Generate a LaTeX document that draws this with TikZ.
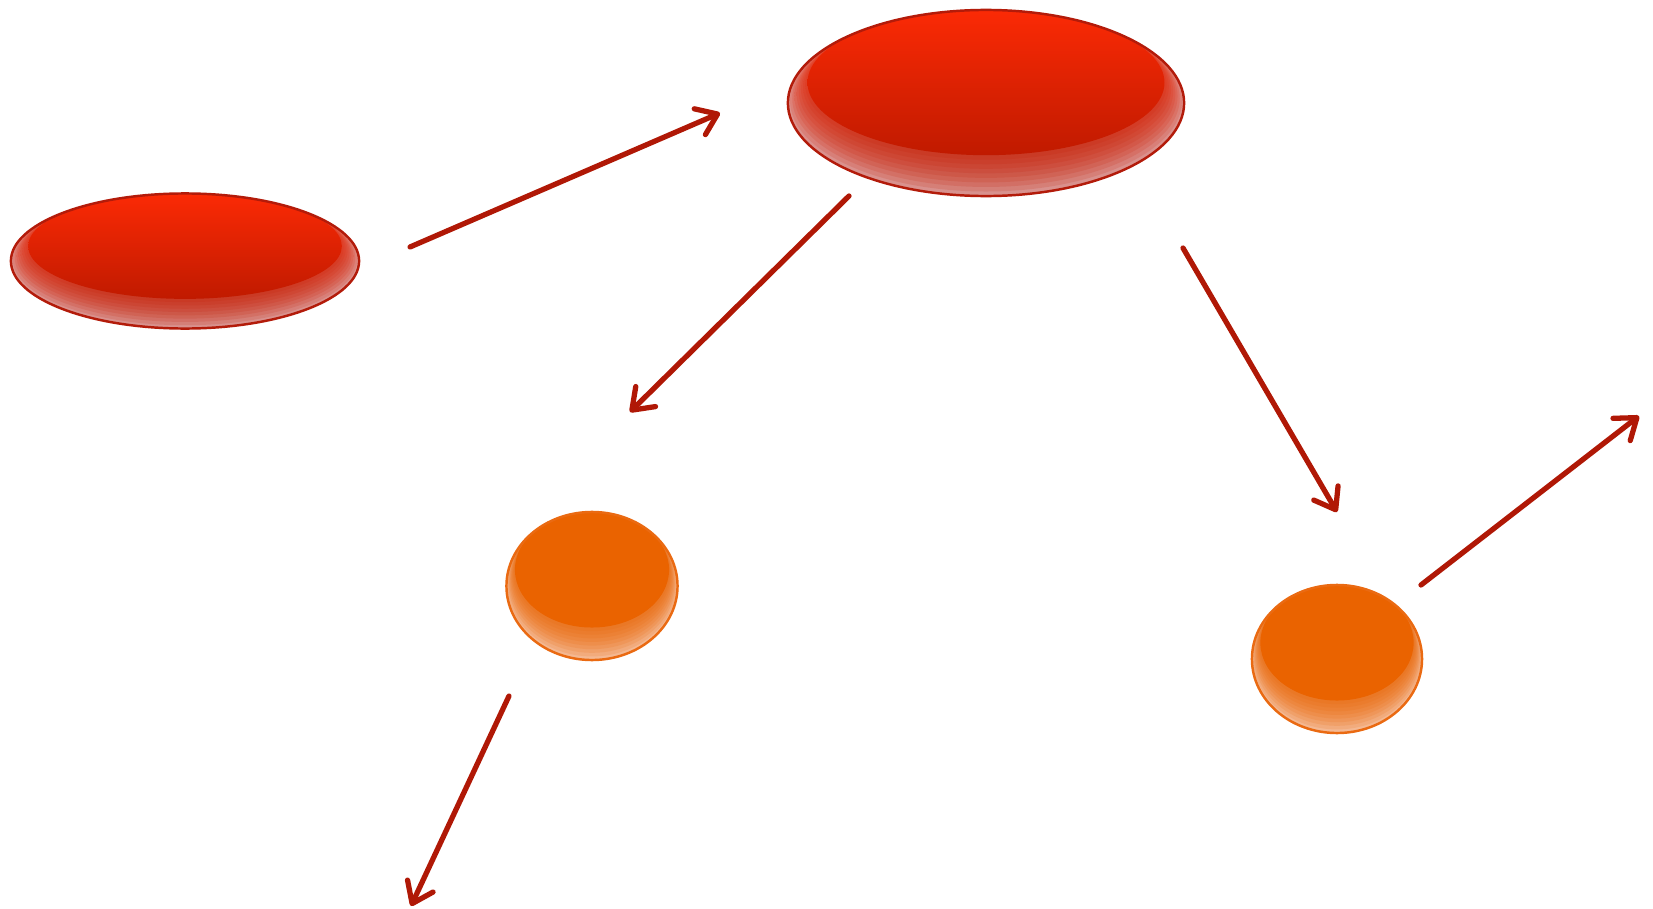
\documentclass[tikz,border=0pt]{standalone}
\usetikzlibrary{arrows.meta,calc,shapes.geometric}
\definecolor{blobtop}{HTML}{FB2A05}
\definecolor{blobdark}{HTML}{C01A00}
\definecolor{blobrim}{HTML}{DDA6A6}
\definecolor{blobline}{HTML}{B31B0A}
\definecolor{orbfill}{HTML}{EA6300}
\definecolor{orbrim}{HTML}{F6C8AC}
\definecolor{orbline}{HTML}{EA6A12}
\definecolor{arrowred}{HTML}{B01806}

\begin{document}
\begin{tikzpicture}[x=0.01cm, y=-0.01cm,
  glow/.style={path picture={
    \foreach \i/\o [evaluate=\i as \fx using 1-0.011*\i,
                    evaluate=\i as \fy using 1-0.0244*\i]
      in {0/0.15, 1/0.15, 2/0.15, 3/0.15, 4/0.15, 5/0.15, 6/0.15, 7/0.15, 8/0.15, 9/1}{
      \path[#1, opacity=\o]
        let \p1=($(path picture bounding box.north east)-(path picture bounding box.center)$) in
        ([yshift={(1-\fy)*\y1}]path picture bounding box.center)
        ellipse [x radius={\fx*\x1}, y radius={\fy*\y1}];
    }}},
  redblob/.style={ellipse, inner sep=0pt, draw=blobline, line width=0.7pt,
    fill=blobrim, glow={top color=blobtop, bottom color=blobdark}},
  orangeorb/.style={ellipse, inner sep=0pt, draw=orbline, line width=0.7pt,
    fill=orbrim, glow={fill=orbfill}},
  link/.style={draw=arrowred, line width=1.5pt, line cap=round,
    -{Straight Barb[length=5.5pt,width=8pt,round]}}]
\useasboundingbox (0,0) rectangle (1653,909);

\node[redblob, minimum width=3.48cm, minimum height=1.35cm] (source) at (185,261) {};
\node[redblob, minimum width=3.96cm, minimum height=1.86cm] (hub) at (986,103) {};
\node[orangeorb, minimum width=1.71cm, minimum height=1.48cm] (leftorb) at (592,586) {};
\node[orangeorb, minimum width=1.70cm, minimum height=1.48cm] (rightorb) at (1337,659) {};

\coordinate (srcout) at (410,247);
\coordinate (hubin) at (720,113);
\coordinate (hubleft) at (849,196);
\coordinate (leftin) at (630,412);
\coordinate (hubright) at (1183,248);
\coordinate (rightin) at (1337,512);
\coordinate (rightout) at (1421,585);
\coordinate (rightend) at (1639,416);
\coordinate (leftout) at (509,696);
\coordinate (leftend) at (411,906);

\draw[link] (srcout) -- (hubin);
\draw[link] (hubleft) -- (leftin);
\draw[link] (hubright) -- (rightin);
\draw[link] (rightout) -- (rightend);
\draw[link] (leftout) -- (leftend);
\end{tikzpicture}
\end{document}
